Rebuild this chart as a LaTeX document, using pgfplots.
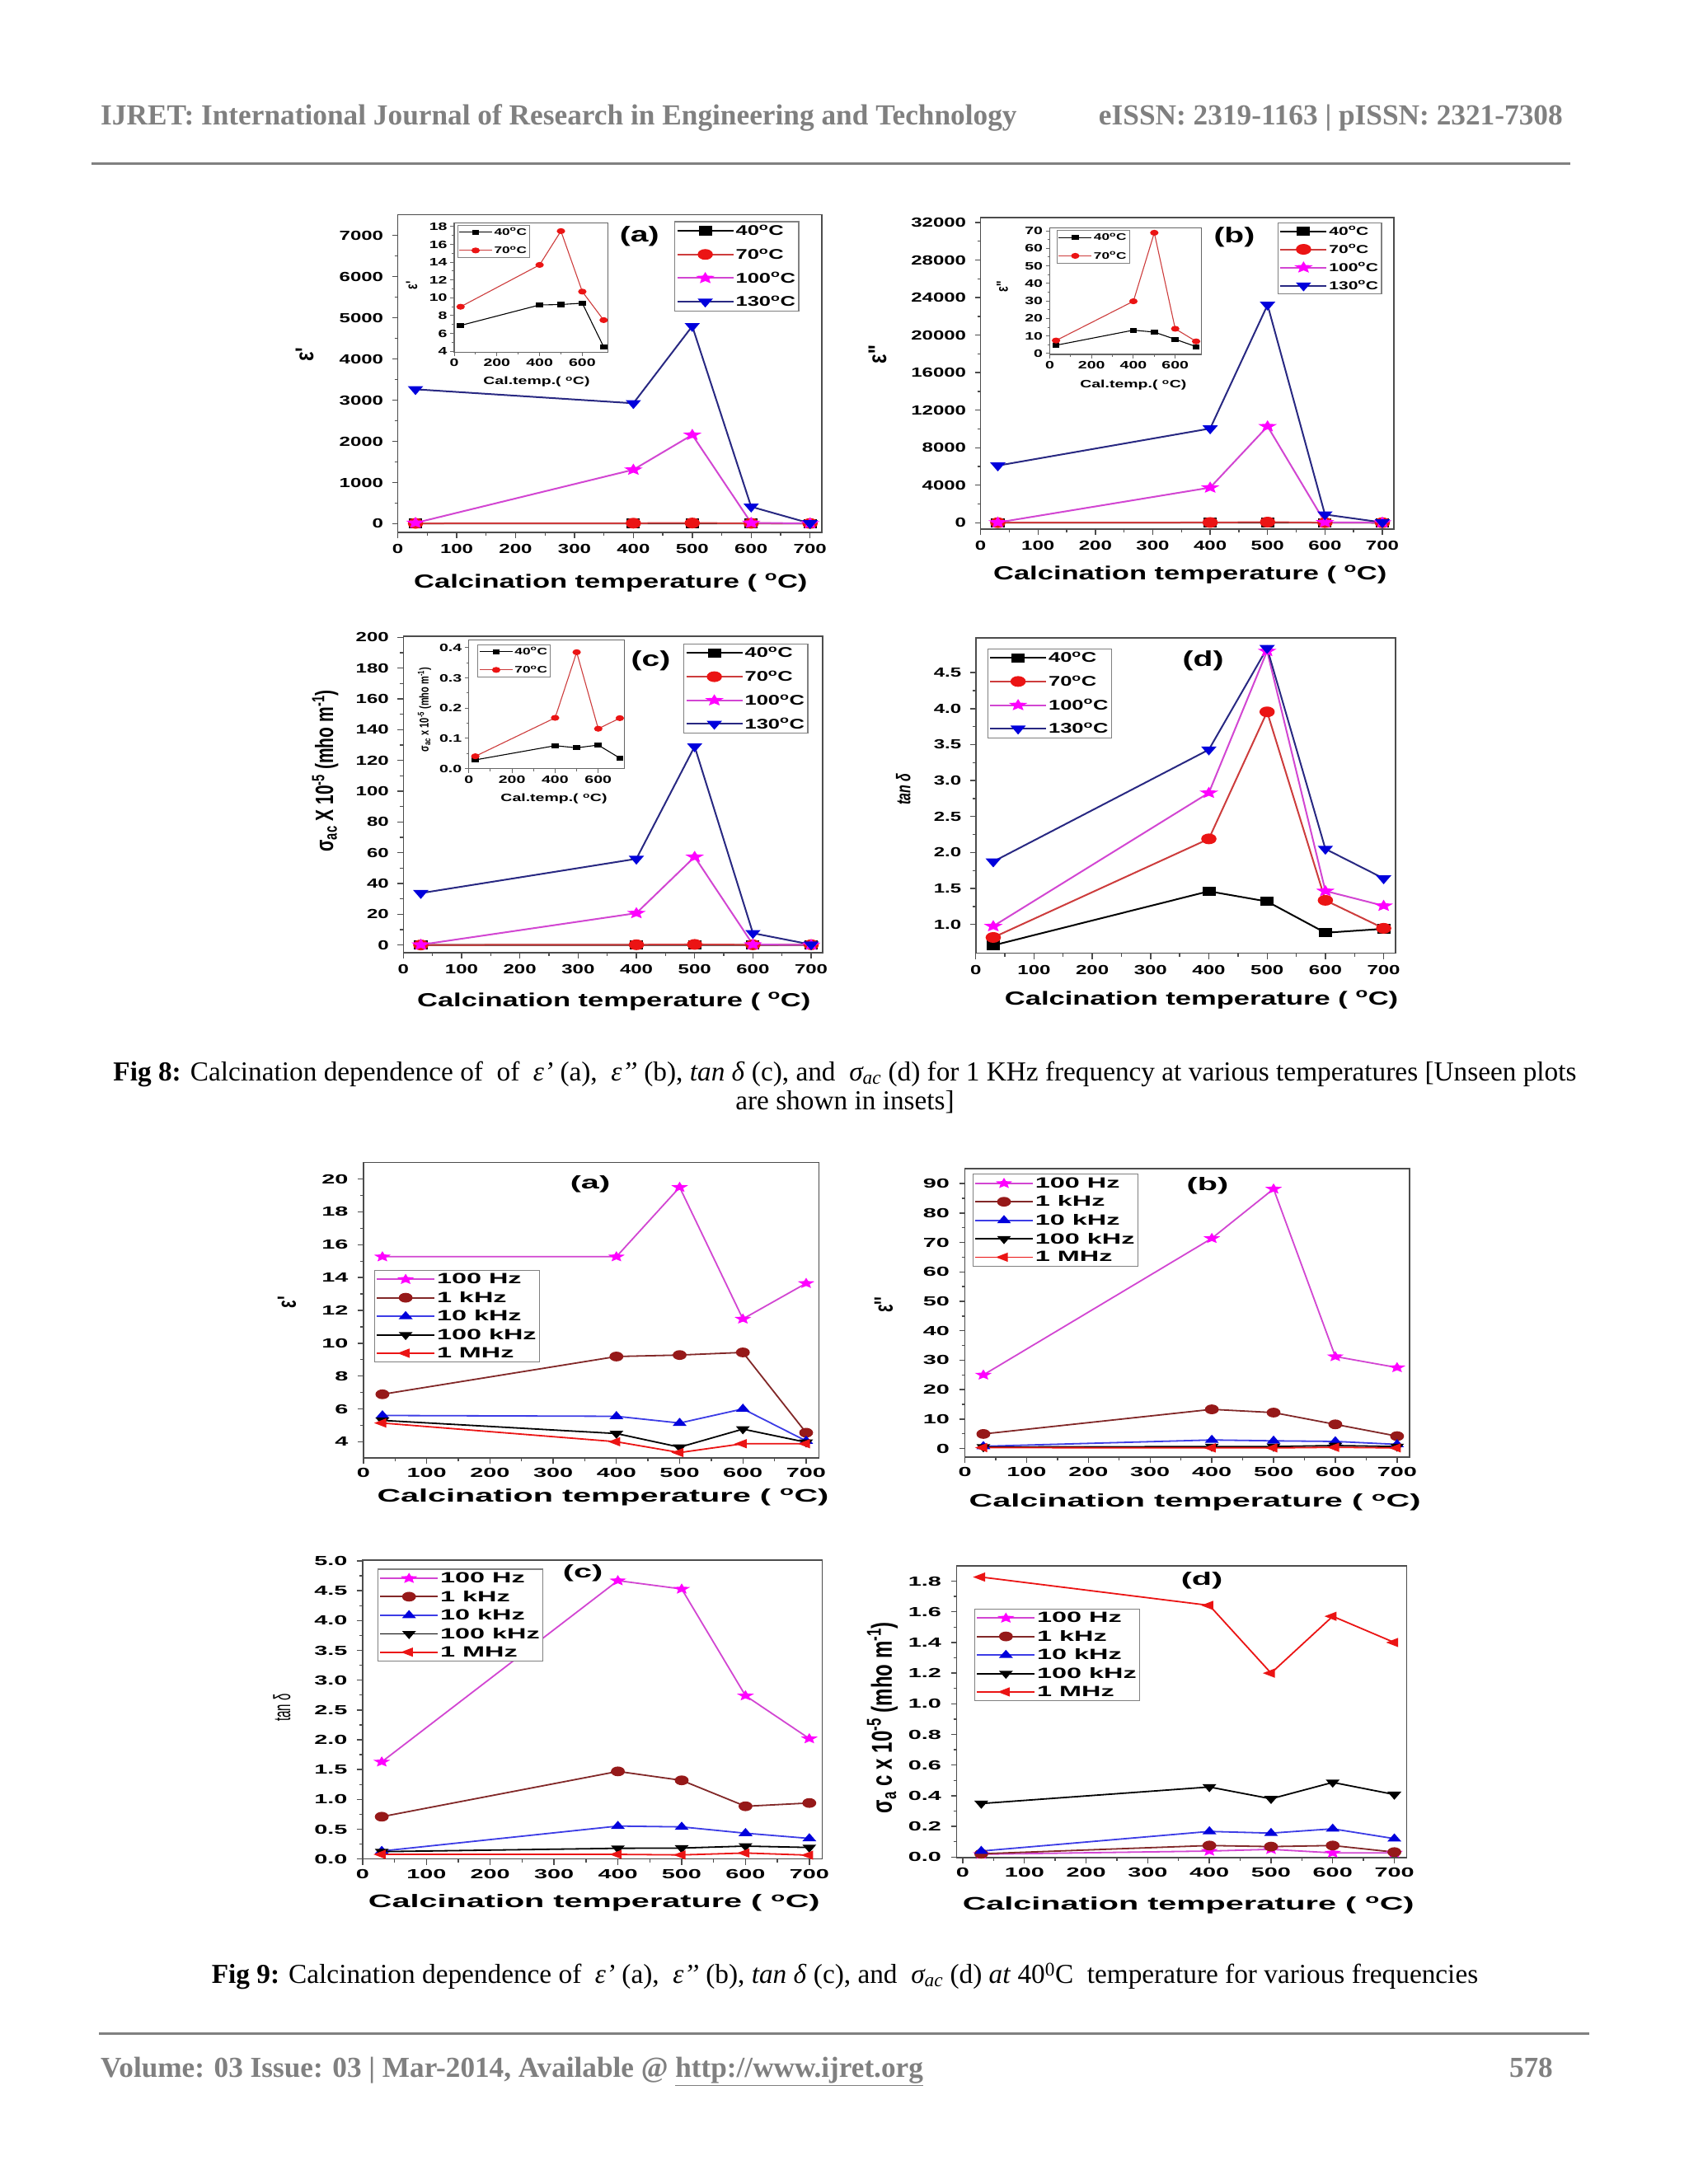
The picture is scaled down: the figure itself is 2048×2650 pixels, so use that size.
\documentclass[border=0pt]{standalone}
\usepackage{fontspec}
\setmainfont{Liberation Serif}
\newfontfamily\fa[FakeStretch=1.5]{Liberation Sans}
\newfontfamily\fb[FakeStretch=1.8]{Liberation Sans}
\newfontfamily\fn{Liberation Sans}
\usepackage{pgfplots}
\pgfplotsset{compat=1.18}
\usetikzlibrary{plotmarks}

\newcommand\fs[1]{\fontsize{#1}{#1}\selectfont}
\newcommand\dg{\textsuperscript{o}}

\definecolor{hdr}{RGB}{128,128,128}
\definecolor{mag}{RGB}{210,70,210}
\definecolor{magm}{RGB}{255,0,255}
\definecolor{nvy}{RGB}{40,40,130}
\definecolor{blu}{RGB}{0,0,220}
\definecolor{rdl}{RGB}{205,60,60}
\definecolor{rdm}{RGB}{235,20,20}
\definecolor{brn}{RGB}{130,40,40}
\definecolor{brm}{RGB}{150,25,25}
\definecolor{bll}{RGB}{60,60,230}

% filled five-point star, like Origin's
\pgfdeclareplotmark{fstar}{%
  \pgfpathmoveto{\pgfpointpolar{90}{\pgfplotmarksize}}%
  \pgfpathlineto{\pgfpointpolar{126}{0.45\pgfplotmarksize}}%
  \pgfpathlineto{\pgfpointpolar{162}{\pgfplotmarksize}}%
  \pgfpathlineto{\pgfpointpolar{198}{0.45\pgfplotmarksize}}%
  \pgfpathlineto{\pgfpointpolar{234}{\pgfplotmarksize}}%
  \pgfpathlineto{\pgfpointpolar{270}{0.45\pgfplotmarksize}}%
  \pgfpathlineto{\pgfpointpolar{306}{\pgfplotmarksize}}%
  \pgfpathlineto{\pgfpointpolar{342}{0.45\pgfplotmarksize}}%
  \pgfpathlineto{\pgfpointpolar{18}{\pgfplotmarksize}}%
  \pgfpathlineto{\pgfpointpolar{54}{0.45\pgfplotmarksize}}%
  \pgfpathclose
  \pgfusepathqfillstroke}

\pgfplotsset{
  s40/.style={black, mark=square*, mark options={xscale=1.5, scale=0.85, fill=black}},
  s70/.style={rdl, mark=*, mark options={xscale=1.5, fill=rdm, draw=rdm}},
  s100/.style={mag, mark=fstar, mark options={xscale=1.5, fill=magm, draw=magm}},
  s130/.style={nvy, mark=triangle*, mark options={xscale=1.5, rotate=180, fill=blu, draw=blu}},
  f100/.style={mag, mark=fstar, mark options={xscale=1.5, fill=magm, draw=magm}},
  f1k/.style={brn, mark=*, mark options={xscale=1.5, fill=brm, draw=brm}},
  f10k/.style={bll, mark=triangle*, mark options={xscale=1.5, fill=blu, draw=blu}},
  f100k/.style={black, mark=triangle*, mark options={xscale=1.5, rotate=180, fill=black}},
  f1M/.style={rdm, mark=triangle*, mark options={xscale=1.5, rotate=90, fill=rdm, draw=rdm}},
  xl/.style 2 args={xlabel style={at={(axis description cs:#2,0)}, yshift=-#1}},
  yl/.style 2 args={ylabel style={at={(axis description cs:0,#2)}, xshift=-#1, rotate=90}},
  base/.style={
    scale only axis, anchor=north west, clip=false,
    axis line style={line width=1.6pt, black!70},
    every tick/.style={line width=1.4pt, black!70},
    tick align=outside, xtick pos=left, ytick pos=left,
    major tick length=7pt, minor tick length=4pt,
    xmin=0, xmax=720, minor x tick num=1, minor y tick num=1,
    scaled y ticks=false,
    /pgf/number format/assume math mode=true,
    /pgf/number format/1000 sep={},
    legend cell align=left,
    every axis x label/.style={anchor=center},
    every axis y label/.style={anchor=center},
  },
  big/.style={base, xtick={0,100,...,700},
    tick label style={font=\fa\bfseries\fs{16}},
    yticklabel style={xshift=-7pt}, xticklabel style={yshift=-4pt},
    label style={font=\fa\bfseries\fs{23}},
    every axis plot/.append style={line width=2pt, mark size=5.5pt},
    legend style={draw=black!50, line width=1.2pt, font=\fa\bfseries\fs{17},
      anchor=north west, inner sep=2pt, row sep=10.5pt},
    legend image code/.code={\draw[mark repeat=2,mark phase=2,##1]
      plot coordinates {(0pt,0pt)(34pt,0pt)(68pt,0pt)};},
  },
  ins/.style={base, xtick={0,200,400,600},
    axis background/.style={fill=white},
    tick label style={font=\fa\bfseries\fs{13}},
    label style={font=\fa\bfseries\fs{13}},
    major tick length=5pt, minor tick length=3pt,
    axis line style={line width=1.2pt, black!60},
    every tick/.style={line width=1pt, black!60},
    every axis plot/.append style={line width=1.1pt, mark size=3pt},
    legend style={draw=black!50, line width=0.8pt, font=\fa\bfseries\fs{11.5},
      anchor=north west, inner sep=1.5pt, row sep=8pt},
    legend image code/.code={\draw[mark repeat=2,mark phase=2,##1]
      plot coordinates {(0pt,0pt)(20pt,0pt)(40pt,0pt)};},
  },
  sm/.style={base, xtick={0,100,...,700},
    tick label style={font=\fb\bfseries\fs{16}},
    yticklabel style={xshift=-8pt}, xticklabel style={yshift=-2pt},
    label style={font=\fb\bfseries\fs{22}},
    every axis plot/.append style={line width=1.8pt, mark size=5pt},
    legend style={draw=black!50, line width=1.2pt, font=\fb\bfseries\fs{18},
      anchor=north west, inner sep=2pt, row sep=4pt},
    legend image code/.code={\draw[mark repeat=2,mark phase=2,##1]
      plot coordinates {(0pt,0pt)(35pt,0pt)(70pt,0pt)};},
  },
  one/.style={/pgf/number format/.cd, fixed, fixed zerofill, precision=1},
}

\begin{document}
\begin{tikzpicture}
\fill[white] (0,0) rectangle (2048pt,2650pt);

% page header and footer
\node[anchor=base west, text=hdr, font=\bfseries\fs{35.3}, inner sep=0pt] at (122pt,2498pt)
  {IJRET: International Journal of Research in Engineering and Technology};
\node[anchor=base east, text=hdr, font=\bfseries\fs{35.3}, inner sep=0pt] at (1896pt,2498pt)
  {eISSN: 2319-1163 | pISSN: 2321-7308};
\draw[hdr, line width=3pt] (111pt,2451pt) -- (1905pt,2451pt);
\draw[hdr, line width=3pt] (120pt,182.5pt) -- (1928pt,182.5pt);
\node[anchor=base west, text=hdr, font=\bfseries\fs{35.2}, inner sep=0pt] at (122pt,129pt)
  {Volume: 03 Issue: 03 | Mar-2014, Available @ \underline{http://www.ijret.org}};
\node[anchor=base east, text=hdr, font=\bfseries\fs{35.2}, inner sep=0pt] at (1884pt,129pt) {578};

% captions
\node[anchor=base, font=\fs{33.3}, inner sep=0pt] at (1025pt,1338pt)
  {\textbf{Fig 8:} Calcination dependence of\ \ of\ \ \textit{ε’} (a),\ \ \textit{ε’’} (b), \textit{tan δ} (c), and\ \ \textit{σ\textsubscript{ac}} (d) for 1 KHz frequency at various temperatures [Unseen plots};
\node[anchor=base, font=\fs{33.3}, inner sep=0pt] at (1025pt,1303pt) {are shown in insets]};
\node[anchor=base, font=\fs{33.3}, inner sep=0pt] at (1025pt,243pt)
  {\textbf{Fig 9:} Calcination dependence of\ \ \textit{ε’} (a),\ \ \textit{ε’’} (b), \textit{tan δ} (c), and\ \ \textit{σ\textsubscript{ac}} (d) \textit{at} 40\textsuperscript{0}C\ \ temperature for various frequencies};

%%%%% Fig 8 (a)
\begin{axis}[big, at={(482.6pt,2389.3pt)}, width=514.4pt, height=385.3pt,
  ymin=-210, ymax=7500, ytick={0,1000,...,7000},
  xlabel={Calcination temperature ( \dg C)}, xl={61pt}{0.502},
  ylabel={ε'}, yl={113pt}{0.56}, ylabel style={font=\fn\bfseries\fs{24}, yscale=1.3},
  legend style={at={(0.652,0.98)}}]
\addplot[s40] coordinates {(30,6.9)(400,9.2)(500,9.3)(600,9.4)(700,4.5)};
\addplot[s70] coordinates {(30,9.0)(400,13.7)(500,17.5)(600,10.7)(700,7.5)};
\addplot[s100] coordinates {(30,20)(400,1312)(500,2158)(600,20)(700,10)};
\addplot[s130] coordinates {(30,3264)(400,2925)(500,4797)(600,413)(700,10)};
\legend{40\dg C,70\dg C,100\dg C,130\dg C}
\node[font=\fa\bfseries\fs{26}] at (rel axis cs:0.570,0.931) {(a)};
\end{axis}
\begin{axis}[ins, at={(551pt,2379.3pt)}, width=186.5pt, height=156.6pt,
  ymin=3.9, ymax=18.4, ytick={4,6,...,18},
  xlabel={Cal.temp.( \dg C)}, xl={36pt}{0.536},
  ylabel={ε'}, yl={51.5pt}{0.515}, ylabel style={font=\fn\bfseries\fs{14}, yscale=1.4},
  legend style={at={(0.019,0.987)}}]
\addplot[s40] coordinates {(30,6.9)(400,9.2)(500,9.25)(600,9.4)(700,4.5)};
\addplot[s70] coordinates {(30,9.0)(400,13.7)(500,17.5)(600,10.7)(700,7.5)};
\legend{40\dg C,70\dg C}
\end{axis}

%%%%% Fig 8 (b)
\begin{axis}[big, at={(1189.6pt,2385.7pt)}, width=501.3pt, height=378pt,
  ymin=-700, ymax=32500, ytick={0,4000,...,32000},
  xlabel={Calcination temperature ( \dg C)}, xl={54.4pt}{0.507},
  ylabel={ε''}, yl={125pt}{0.562}, ylabel style={font=\fn\bfseries\fs{24}, yscale=1.3},
  legend style={at={(0.7185,0.985)}, font=\fa\bfseries\fs{14}, row sep=6pt},
  legend image code/.code={\draw[mark repeat=2,mark phase=2,#1]
      plot coordinates {(0pt,0pt)(28pt,0pt)(56pt,0pt)};}]
\addplot[s40] coordinates {(30,4.7)(400,13.3)(500,12.2)(600,8.1)(700,3.9)};
\addplot[s70] coordinates {(30,7.4)(400,29.8)(500,68.9)(600,14.1)(700,6.9)};
\addplot[s100] coordinates {(30,30)(400,3748)(500,10278)(600,50)(700,20)};
\addplot[s130] coordinates {(30,6090)(400,10044)(500,23221)(600,878)(700,40)};
\legend{40\dg C,70\dg C,100\dg C,130\dg C}
\node[font=\fa\bfseries\fs{26}] at (rel axis cs:0.614,0.939) {(b)};
\end{axis}
\begin{axis}[ins, at={(1273.5pt,2373.3pt)}, width=183.9pt, height=153.3pt,
  xmax=725, ymin=-0.5, ymax=71.6, ytick={0,10,...,70},
  xlabel={Cal.temp.( \dg C)}, xl={37.3pt}{0.551},
  ylabel={ε''}, yl={57.5pt}{0.535}, ylabel style={font=\fn\bfseries\fs{14}, yscale=1.4},
  legend style={at={(0.046,0.983)}}]
\addplot[s40] coordinates {(30,4.7)(400,13.3)(500,12.2)(600,8.1)(700,3.9)};
\addplot[s70] coordinates {(30,7.4)(400,29.8)(500,68.9)(600,14.1)(700,6.9)};
\legend{40\dg C,70\dg C}
\end{axis}

%%%%% Fig 8 (c)
\begin{axis}[big, at={(489.3pt,1877.7pt)}, width=508.9pt, height=383.7pt,
  ymin=-5, ymax=200.5, ytick={0,20,...,200},
  xlabel={Calcination temperature ( \dg C)}, xl={59pt}{0.502},
  ylabel={σ\textsubscript{ac} X 10\textsuperscript{-5} (mho m\textsuperscript{-1})},
  yl={94.7pt}{0.575}, ylabel style={font=\fn\bfseries\fs{21}, yscale=1.45},
  legend style={at={(0.6675,0.978)}}]
\addplot[s40] coordinates {(30,0.029)(400,0.076)(500,0.069)(600,0.078)(700,0.035)};
\addplot[s70] coordinates {(30,0.041)(400,0.168)(500,0.385)(600,0.132)(700,0.167)};
\addplot[s100] coordinates {(30,0.2)(400,20.7)(500,57.3)(600,0.3)(700,0.1)};
\addplot[s130] coordinates {(30,33.7)(400,56.0)(500,129.0)(600,7.7)(700,0.3)};
\legend{40\dg C,70\dg C,100\dg C,130\dg C}
\node[font=\fa\bfseries\fs{26}] at (rel axis cs:0.590,0.922) {(c)};
\end{axis}
\begin{axis}[ins, at={(568.75pt,1873.3pt)}, width=188.4pt, height=156pt,
  ymin=0, ymax=0.425, ytick={0,0.1,0.2,0.3,0.4}, yticklabel style={one},
  xlabel={Cal.temp.( \dg C)}, xl={36.6pt}{0.548},
  ylabel={σ\textsubscript{ac} x 10\textsuperscript{-5} (mho m\textsuperscript{-1})},
  yl={53.75pt}{0.46}, ylabel style={font=\fn\bfseries\fs{11}, yscale=1.4},
  legend style={at={(0.057,0.968)}}]
\addplot[s40] coordinates {(30,0.029)(400,0.076)(500,0.069)(600,0.078)(700,0.035)};
\addplot[s70] coordinates {(30,0.041)(400,0.168)(500,0.385)(600,0.132)(700,0.167)};
\legend{40\dg C,70\dg C}
\end{axis}

%%%%% Fig 8 (d)
\begin{axis}[big, at={(1183.75pt,1875.7pt)}, width=508.95pt, height=382.4pt,
  ymin=0.6, ymax=4.98, ytick={1,1.5,2,2.5,3,3.5,4,4.5}, yticklabel style={one},
  xlabel={Calcination temperature ( \dg C)}, xl={56.6pt}{0.538},
  ylabel={tan δ}, yl={88pt}{0.52}, ylabel style={font=\fn\bfseries\itshape\fs{16}, yscale=1.5},
  legend style={at={(0.027,0.968)}}]
\addplot[s40] coordinates {(30,0.71)(400,1.462)(500,1.32)(600,0.885)(700,0.94)};
\addplot[s70] coordinates {(30,0.82)(400,2.19)(500,3.955)(600,1.336)(700,0.947)};
\addplot[s100] coordinates {(30,0.977)(400,2.83)(500,4.80)(600,1.466)(700,1.26)};
\addplot[s130] coordinates {(30,1.874)(400,3.43)(500,4.84)(600,2.05)(700,1.64)};
\legend{40\dg C,70\dg C,100\dg C,130\dg C}
\node[font=\fa\bfseries\fs{26}] at (rel axis cs:0.542,0.928) {(d)};
\end{axis}

%%%%% Fig 9 (a)
\begin{axis}[sm, at={(440.9pt,1239.3pt)}, width=552.4pt, height=358.6pt,
  ymin=3, ymax=21, ytick={4,6,...,20},
  xlabel={Calcination temperature ( \dg C)}, xl={47.4pt}{0.526},
  ylabel={ε'}, yl={93pt}{0.528}, ylabel style={font=\fn\bfseries\fs{20}, yscale=1.6},
  legend style={at={(0.023,0.6375)}}]
\addplot[f100] coordinates {(30,15.27)(400,15.27)(500,19.5)(600,11.48)(700,13.65)};
\addplot[f1k] coordinates {(30,6.89)(400,9.19)(500,9.28)(600,9.44)(700,4.55)};
\addplot[f10k] coordinates {(30,5.6)(400,5.55)(500,5.14)(600,6.0)(700,4.05)};
\addplot[f100k] coordinates {(30,5.3)(400,4.5)(500,3.67)(600,4.77)(700,3.97)};
\addplot[f1M] coordinates {(30,5.14)(400,4.0)(500,3.34)(600,3.88)(700,3.88)};
\legend{100 Hz,1 kHz,10 kHz,100 kHz,1 MHz}
\node[font=\fb\bfseries\fs{22}] at (rel axis cs:0.498,0.9275) {(a)};
\end{axis}

%%%%% Fig 9 (b)
\begin{axis}[sm, at={(1170.5pt,1231.7pt)}, width=539.3pt, height=350pt,
  ymin=-3, ymax=95, ytick={0,10,...,90},
  xlabel={Calcination temperature ( \dg C)}, xl={55pt}{0.5175},
  ylabel={ε''}, yl={98.5pt}{0.529}, ylabel style={font=\fn\bfseries\fs{20}, yscale=1.6},
  legend style={at={(0.0167,0.983)}}]
\addplot[f100] coordinates {(30,25.0)(400,71.4)(500,88.2)(600,31.25)(700,27.5)};
\addplot[f1k] coordinates {(30,4.94)(400,13.3)(500,12.2)(600,8.2)(700,4.2)};
\addplot[f10k] coordinates {(30,0.75)(400,2.9)(500,2.6)(600,2.4)(700,1.4)};
\addplot[f100k] coordinates {(30,0.5)(400,0.65)(500,0.65)(600,1.0)(700,0.65)};
\addplot[f1M] coordinates {(30,0.3)(400,0.2)(500,0.2)(600,0.4)(700,0.2)};
\legend{100 Hz,1 kHz,10 kHz,100 kHz,1 MHz}
\node[font=\fb\bfseries\fs{22}] at (rel axis cs:0.546,0.94) {(b)};
\end{axis}

%%%%% Fig 9 (c)
\begin{axis}[sm, at={(439.9pt,756.7pt)}, width=557.4pt, height=362.4pt,
  ymin=0, ymax=5.01, ytick={0,0.5,1,1.5,2,2.5,3,3.5,4,4.5,5}, yticklabel style={one},
  xlabel={Calcination temperature ( \dg C)}, xl={53.6pt}{0.504},
  ylabel={tan δ}, yl={98pt}{0.507}, ylabel style={font=\fn\fs{15}, yscale=1.9},
  legend style={at={(0.032,0.972)}}]
\addplot[f100] coordinates {(30,1.63)(400,4.67)(500,4.53)(600,2.74)(700,2.02)};
\addplot[f1k] coordinates {(30,0.71)(400,1.47)(500,1.32)(600,0.885)(700,0.94)};
\addplot[f10k] coordinates {(30,0.134)(400,0.553)(500,0.539)(600,0.433)(700,0.346)};
\addplot[f100k] coordinates {(30,0.124)(400,0.18)(500,0.184)(600,0.217)(700,0.194)};
\addplot[f1M] coordinates {(30,0.078)(400,0.078)(500,0.069)(600,0.101)(700,0.065)};
\legend{100 Hz,1 kHz,10 kHz,100 kHz,1 MHz}
\node[font=\fb\bfseries\fs{22}] at (rel axis cs:0.4795,0.956) {(c)};
\end{axis}

%%%%% Fig 9 (d)
\begin{axis}[sm, at={(1160.5pt,750pt)}, width=546pt, height=354pt,
  xmin=-10, ymin=-0.004, ymax=1.9, ytick={0,0.2,0.4,0.6,0.8,1,1.2,1.4,1.6,1.8}, yticklabel style={one},
  xlabel={Calcination temperature ( \dg C)}, xl={57.7pt}{0.515},
  ylabel={σ\textsubscript{a} c x 10\textsuperscript{-5} (mho m\textsuperscript{-1})},
  yl={90pt}{0.48}, ylabel style={font=\fn\bfseries\fs{24}, yscale=1.45},
  legend style={at={(0.039,0.854)}}]
\addplot[f100] coordinates {(30,0.018)(400,0.039)(500,0.05)(600,0.027)(700,0.027)};
\addplot[f1k] coordinates {(30,0.021)(400,0.075)(500,0.068)(600,0.075)(700,0.032)};
\addplot[f10k] coordinates {(30,0.039)(400,0.167)(500,0.156)(600,0.184)(700,0.12)};
\addplot[f100k] coordinates {(30,0.349)(400,0.457)(500,0.38)(600,0.487)(700,0.408)};
\addplot[f1M] coordinates {(30,1.827)(400,1.642)(500,1.2)(600,1.571)(700,1.4)};
\legend{100 Hz,1 kHz,10 kHz,100 kHz,1 MHz}
\node[font=\fb\bfseries\fs{22}] at (rel axis cs:0.545,0.95) {(d)};
\end{axis}
\end{tikzpicture}
\end{document}
